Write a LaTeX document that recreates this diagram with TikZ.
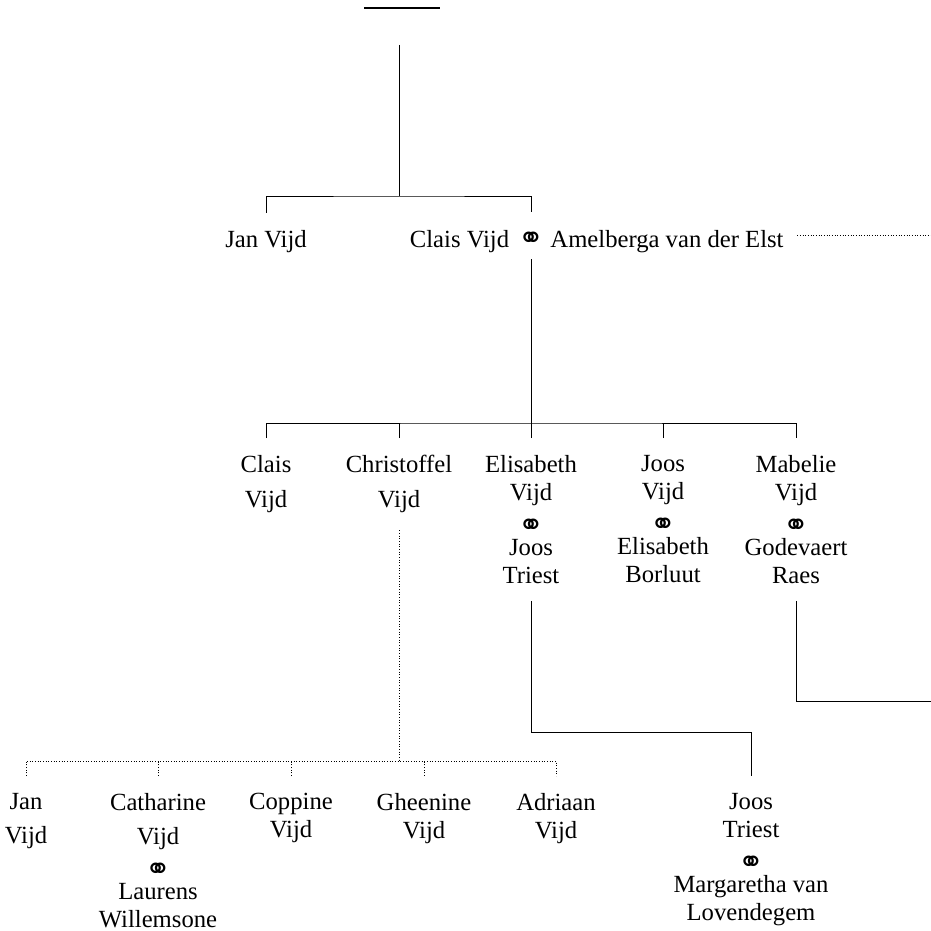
\documentclass[tikz,border=0pt]{standalone}
\usepackage{fontspec}
\setmainfont{Liberation Serif}
\newfontfamily\ringsfont{DejaVu Sans}
\newcommand{\wedlock}[1][0pt]{\smash{\raisebox{#1}{\ringsfont\fontsize{23}{23}\selectfont ⚭}}}

\begin{document}
\begin{tikzpicture}[x=0.75pt,y=0.75pt,yscale=-1,xscale=1,
  person/.style={font=\fontsize{18.5}{20.8}\selectfont, align=center, inner xsep=1pt, inner ysep=12.8pt},
  kin/.style={line width=0.75pt},
  kinDotted/.style={line width=0.7pt, dash pattern=on 0.7pt off 1.3pt}]
\useasboundingbox (0,0) rectangle (931,931);

% Text Node
\node [person, anchor=base] (janA) at (266,247) {Jan Vijd};
\node [person, anchor=base] (claisA) at (459.5,247) {Clais Vijd};
\node [person, anchor=base, inner ysep=0pt, text height=26.25pt, text depth=9pt] (wedA) at (531,247) {\wedlock[-1pt]};
\node [person, anchor=base] (amelA) at (667,247) {Amelberga van der Elst};

% Text Node
\node [person, anchor=north] (claisB) at (266,438) {Clais\\[5.5pt]Vijd};
\node [person, anchor=north] (chrisB) at (399,438) {Christoffel\\[5.5pt]Vijd};
\node [person, anchor=north] (elisB) at (531,438) {Elisabeth\\Vijd\\\wedlock[-5.5pt]\\Joos\\Triest};
\node [person, anchor=north] (joosB) at (663,438) {Joos\\Vijd\\\wedlock[-5.5pt]\\Elisabeth\\Borluut};
\node [person, anchor=north] (mabeB) at (796,438) {Mabelie\\Vijd\\\wedlock[-5.5pt]\\Godevaert\\Raes};

% Text Node
\node [person, anchor=north] (janC) at (26,776) {Jan\\[4.7pt]Vijd};
\node [person, anchor=north] (cathC) at (158,776) {Catharine\\[4.7pt]Vijd\\\wedlock[-5.5pt]\\Laurens\\Willemsone};
\node [person, anchor=north] (coppC) at (291,776) {Coppine\\Vijd};
\node [person, anchor=north] (gheeC) at (424,776) {Gheenine\\Vijd};
\node [person, anchor=north] (adriC) at (556,776) {Adriaan\\Vijd};
\node [person, anchor=north] (joosC) at (751,776) {Joos\\Triest\\\wedlock[-5.5pt]\\Margaretha van\\Lovendegem};

\coordinate (barL) at (364,8);
\coordinate (barR) at (440,8);
\coordinate (root) at (399,45);
\coordinate (forkA) at (399,196);
\coordinate (forkB) at (531,423);
\coordinate (forkC) at (399,761);
\coordinate (elbow) at (531,732);
\coordinate (mabeOut) at (931,701);
\coordinate (amelOut) at (931,235);

%Straight Lines
\draw [line width=1.1pt] (barL) -- (barR);
\draw [kin] (root) -- (forkA);
\draw [kin] (janA.north) |- (forkA) -| (wedA.north);
\draw [kinDotted] ([xshift=9pt]amelA.east |- amelOut) -- (amelOut);

%Straight Lines
\draw [kin] (wedA.south) -- (forkB);
\draw [kin] (claisB.north) |- (forkB) -| (mabeB.north);
\foreach \n in {chrisB,elisB,joosB} \draw [kin] (\n.north) -- (\n.north |- forkB);

%Straight Lines
\draw [kinDotted] (chrisB.south) -- (forkC);
\draw [kinDotted] (janC.north) |- (forkC) -| (adriC.north);
\foreach \n in {cathC,coppC,gheeC} \draw [kinDotted] (\n.north) -- (\n.north |- forkC);

%Straight Lines
\draw [kin] (elisB.south) -- (elbow) -| (joosC.north);
\draw [kin] (mabeB.south) |- (mabeOut);

\end{tikzpicture}
\end{document}
